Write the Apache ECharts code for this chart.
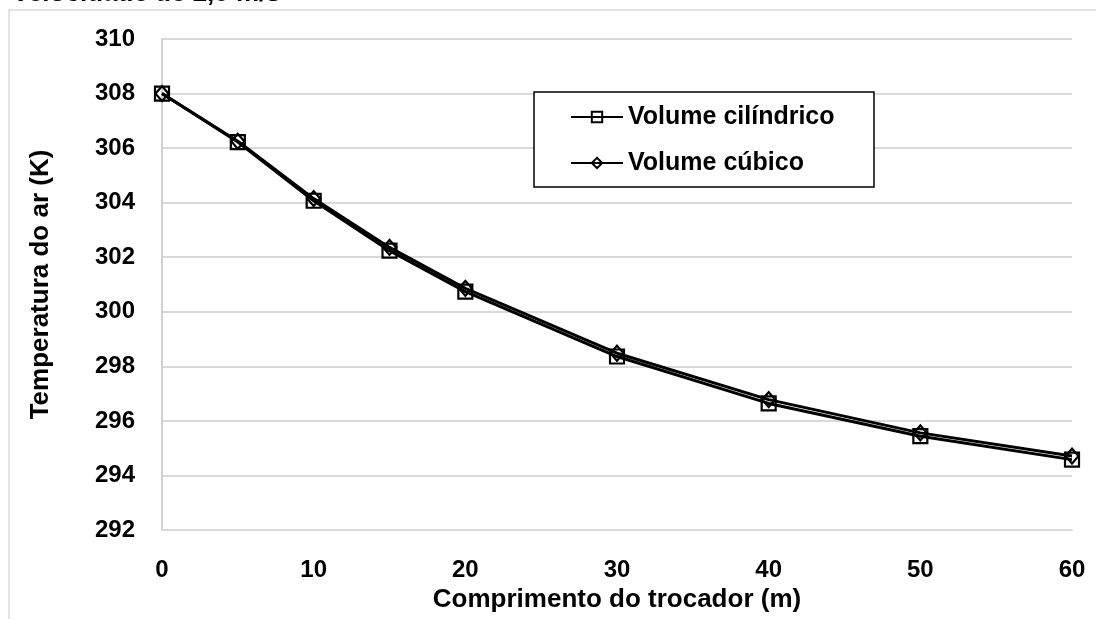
<!DOCTYPE html>
<html>
<head>
<meta charset="utf-8">
<script src="https://cdn.jsdelivr.net/npm/echarts@6/dist/echarts.min.js"></script>
<style>
html,body{margin:0;padding:0;background:#fff;}
#chart{width:1096px;height:619px;}
</style>
</head>
<body>
<div id="chart"></div>
<script>
// Data
var chartTitle = 'Velocidade de 2,0 m/s';
var xName = 'Comprimento do trocador (m)';
var yName = 'Temperatura do ar (K)';
var seriesNames = ['Volume cilíndrico', 'Volume cúbico'];
var comprimento = [0, 5, 10, 15, 20, 30, 40, 50, 60];
var volCilindrico = [308.0, 306.22, 304.07, 302.24, 300.74, 298.36, 296.64, 295.44, 294.58];
var volCubico = [308.0, 306.25, 304.15, 302.36, 300.86, 298.48, 296.78, 295.56, 294.71];

var FONT = '"Liberation Sans", Arial, sans-serif';

function pairs(xs, ys) { return xs.map(function (x, i) { return [x, ys[i]]; }); }

var chart = echarts.init(document.getElementById('chart'), null, { renderer: 'canvas' });
var option = {
  backgroundColor: '#fff',
  animation: false,
  textStyle: { fontFamily: FONT },
  grid: { left: 162, right: 24, top: 39, bottom: 89, containLabel: false },
  graphic: [
    { type: 'polyline', shape: { points: [[9, 619], [9, 10], [1096, 10]] },
      style: { stroke: '#d9d9d9', lineWidth: 1.5, fill: null }, silent: true },
    { type: 'text', left: 12, top: -19,
      style: { text: chartTitle, font: 'bold 26px ' + FONT, fill: '#000' } },
    { type: 'rect', shape: { x: 534, y: 92, width: 340, height: 95 },
      style: { stroke: '#000', lineWidth: 1.5, fill: '#fff' }, z: 5 }
  ],
  legend: {
    orient: 'vertical', left: 570, top: 102, padding: 0,
    itemWidth: 52, itemHeight: 13, itemGap: 16, z: 10,
    textStyle: { fontFamily: FONT, fontWeight: 'bold', fontSize: 25, color: '#000', lineHeight: 30 },
    data: seriesNames
  },
  xAxis: {
    type: 'value', min: 0, max: 60, interval: 10,
    name: xName, nameLocation: 'middle', nameGap: 55,
    nameTextStyle: { fontFamily: FONT, fontWeight: 'bold', fontSize: 26, color: '#000' },
    axisLine: { show: true, lineStyle: { color: '#d9d9d9', width: 2 } },
    axisTick: { show: false },
    splitLine: { show: false },
    axisLabel: { fontFamily: FONT, fontWeight: 'bold', fontSize: 24, color: '#000', margin: 28 }
  },
  yAxis: {
    type: 'value', min: 292, max: 310, interval: 2,
    name: yName, nameLocation: 'middle', nameGap: 108, nameRotate: 90,
    nameTextStyle: { fontFamily: FONT, fontWeight: 'bold', fontSize: 26, color: '#000' },
    axisLine: { show: true, lineStyle: { color: '#d0d0d0', width: 2 } },
    axisTick: { show: false },
    splitLine: { show: true, lineStyle: { color: '#d9d9d9', width: 2 } },
    axisLabel: { fontFamily: FONT, fontWeight: 'bold', fontSize: 24, color: '#000', margin: 27 }
  },
  series: [
    {
      name: seriesNames[0], type: 'line', data: pairs(comprimento, volCilindrico),
      symbol: 'rect', symbolSize: 14,
      lineStyle: { color: '#000', width: 3 },
      itemStyle: { color: 'rgba(255,255,255,0)', borderColor: '#000', borderWidth: 2.2 },
      z: 3
    },
    {
      name: seriesNames[1], type: 'line', data: pairs(comprimento, volCubico),
      symbol: 'diamond', symbolSize: [13, 15],
      lineStyle: { color: '#000', width: 3 },
      itemStyle: { color: 'rgba(255,255,255,0)', borderColor: '#000', borderWidth: 2.2 },
      z: 3
    }
  ]
};
chart.setOption(option);
</script>
</body>
</html>
